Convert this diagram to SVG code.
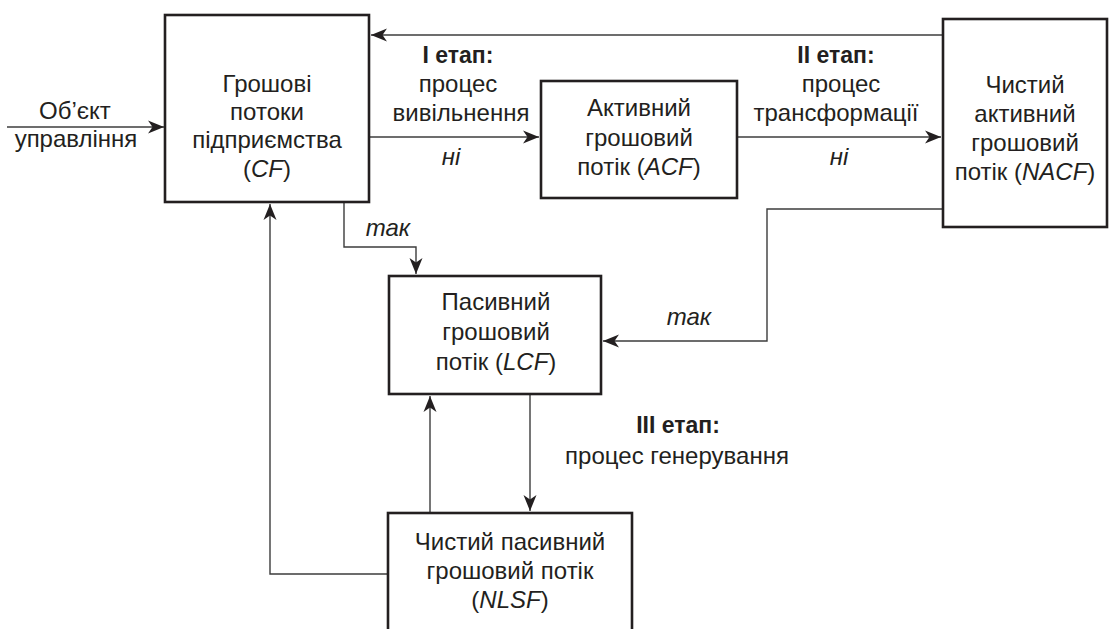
<svg xmlns="http://www.w3.org/2000/svg" width="1109" height="629" viewBox="0 0 1109 629">
<style>
.box{fill:#fff;stroke:#231f20;stroke-width:2.6}
.ln{fill:none;stroke:#3c3c3c;stroke-width:1.4}
.t{font-family:"Liberation Sans",Arial,sans-serif;font-size:24px;fill:#231f20;text-anchor:middle}
.b{font-weight:bold;font-size:23px}
.i{font-style:italic}
</style>
<defs>
<marker id="ah" viewBox="-17 -8 18 16" refX="0" refY="0" markerWidth="18" markerHeight="16" markerUnits="userSpaceOnUse" orient="auto">
<path d="M0,0 L-16,-6.5 L-11.5,0 L-16,6.5 Z" fill="#231f20"/>
</marker>
</defs>
<rect width="1109" height="629" fill="#fff"/>
<g id="connectors">
<path class="ln" d="M7,127 H164" marker-end="url(#ah)"/>
<path class="ln" d="M943,35 H371" marker-end="url(#ah)"/>
<path class="ln" d="M369,137 H539" marker-end="url(#ah)"/>
<path class="ln" d="M737,137 H941" marker-end="url(#ah)"/>
<path class="ln" d="M943,209 H767 V341 H603" marker-end="url(#ah)"/>
<path class="ln" d="M344,203 V247 H416 V274" marker-end="url(#ah)"/>
<path class="ln" d="M430,513 V396" marker-end="url(#ah)"/>
<path class="ln" d="M530,394 V511" marker-end="url(#ah)"/>
<path class="ln" d="M388,574 H270 V204" marker-end="url(#ah)"/>
</g>
<g id="labels">
<text class="t" x="75" y="119">Об’єкт</text>
<text class="t" x="76" y="147">управління</text>
<text class="t b" x="458" y="63">I етап:</text>
<text class="t" x="458" y="92">процес</text>
<text class="t" x="461" y="121">вивільнення</text>
<text class="t i" x="451" y="165">ні</text>
<text class="t b" x="836" y="63">II етап:</text>
<text class="t" x="841" y="92">процес</text>
<text class="t" x="836" y="121">трансформації</text>
<text class="t i" x="839" y="165">ні</text>
<text class="t i" x="388" y="236">так</text>
<text class="t i" x="689" y="325">так</text>
<text class="t b" x="678" y="433">III етап:</text>
<text class="t" x="677" y="464">процес генерування</text>
</g>
<g id="node-cf">
<rect class="box" x="165" y="15" width="204" height="187"/>
<text class="t" x="267" y="92">Грошові</text>
<text class="t" x="267" y="120">потоки</text>
<text class="t" x="267" y="148">підприємства</text>
<text class="t" x="267" y="177">(<tspan class="i">CF</tspan>)</text>
</g>
<g id="node-acf">
<rect class="box" x="541" y="81" width="196" height="117"/>
<text class="t" x="639" y="116">Активний</text>
<text class="t" x="639" y="146">грошовий</text>
<text class="t" x="639" y="175">потік (<tspan class="i">ACF</tspan>)</text>
</g>
<g id="node-nacf">
<rect class="box" x="943" y="19" width="164" height="208"/>
<text class="t" x="1025" y="93">Чистий</text>
<text class="t" x="1025" y="122">активний</text>
<text class="t" x="1025" y="151">грошовий</text>
<text class="t" x="1025" y="180">потік (<tspan class="i">NACF</tspan>)</text>
</g>
<g id="node-lcf">
<rect class="box" x="389" y="276" width="212" height="118"/>
<text class="t" x="496" y="310">Пасивний</text>
<text class="t" x="496" y="340">грошовий</text>
<text class="t" x="496" y="370">потік (<tspan class="i">LCF</tspan>)</text>
</g>
<g id="node-nlsf">
<rect class="box" x="388" y="513" width="244" height="140"/>
<text class="t" x="510" y="550">Чистий пасивний</text>
<text class="t" x="510" y="579">грошовий потік</text>
<text class="t" x="510" y="608">(<tspan class="i">NLSF</tspan>)</text>
</g>
</svg>
